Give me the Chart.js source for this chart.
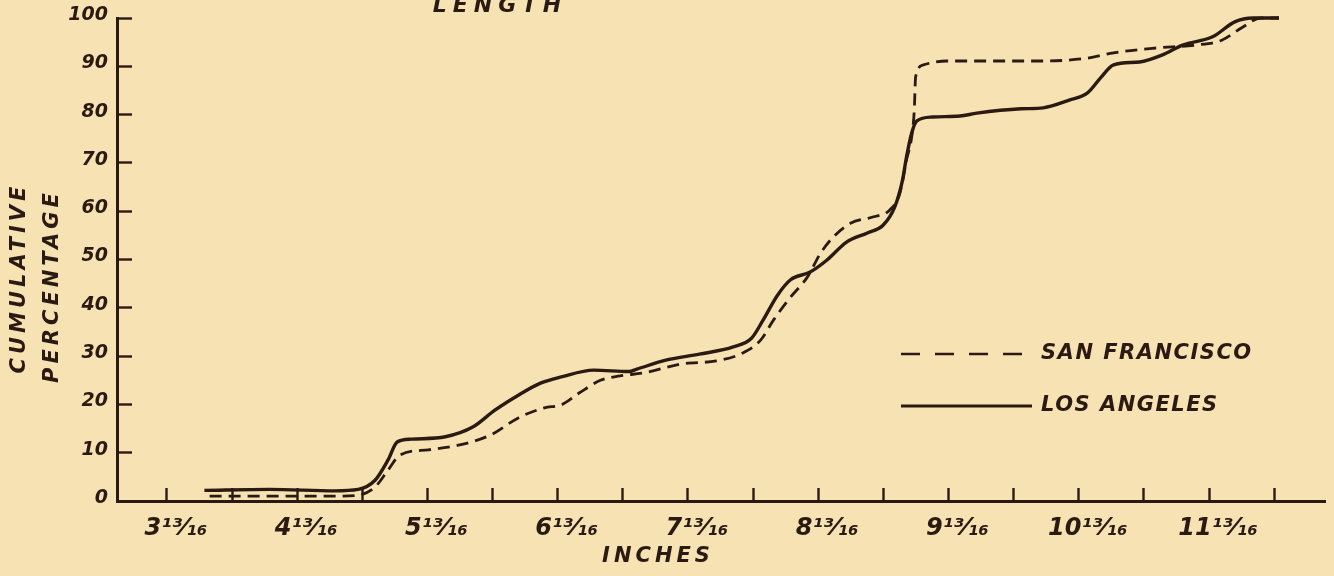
<!DOCTYPE html>
<html>
<head>
<meta charset="utf-8">
<script src="https://cdn.jsdelivr.net/npm/chart.js@4.4.1/dist/chart.umd.min.js"></script>
<style>
    html, body { margin: 0; padding: 0; background: #f7e2b4; }
    #wrap { width: 1334px; height: 576px; }
</style>
</head>
<body>
<div id="wrap"><canvas id="lengthChart" width="1334" height="576"></canvas></div>
<script>
// values (inches, cumulative %)
const laInches = [4.10, 4.60, 5.10, 5.28, 5.41, 5.51, 5.58, 5.69, 5.95, 6.16, 6.33, 6.51, 6.68, 6.84,
    7.09, 7.36, 7.42, 7.65, 7.90, 8.16, 8.30, 8.39, 8.50, 8.60, 8.75, 8.88, 9.03, 9.19, 9.31, 9.40,
    9.46, 9.49, 9.53, 9.57, 9.69, 9.90, 10.03, 10.37, 10.54, 10.74, 10.88, 10.98, 11.08, 11.28,
    11.45, 11.61, 11.84, 12.01, 12.15, 12.35];
const laPercent = [2.2, 2.4, 2.1, 2.4, 4.3, 8.5, 12.2, 12.8, 13.3, 15.3, 18.8, 21.9, 24.4, 25.7,
    27.1, 26.8, 27.3, 29.2, 30.4, 31.9, 33.7, 37.5, 42.6, 45.8, 47.4, 49.9, 53.6, 55.5, 57.1, 60.9,
    66.5, 71.2, 76.2, 78.7, 79.5, 79.7, 80.3, 81.2, 81.4, 83.0, 84.5, 87.6, 90.3, 90.9,
    92.3, 94.4, 96.1, 99.2, 100, 100];

const sfInches = [4.14, 4.60, 5.10, 5.28, 5.41, 5.51, 5.60, 5.82, 6.06, 6.30, 6.51, 6.71, 6.84, 6.98,
    7.14, 7.29, 7.47, 7.77, 8.03, 8.23, 8.37, 8.47, 8.60, 8.73, 8.83, 8.93, 9.06, 9.23, 9.36, 9.44,
    9.49, 9.53, 9.55, 9.56, 9.62, 9.80, 10.54, 10.88, 11.08, 11.41, 11.71, 11.91, 12.07, 12.21, 12.35];
const sfPercent = [1.0, 1.0, 1.0, 1.2, 2.9, 6.4, 9.5, 10.6, 11.6, 13.7, 17.2, 19.3, 19.9, 22.4,
    25.0, 25.9, 26.5, 28.4, 29.0, 30.6, 33.3, 37.5, 42.2, 46.4, 51.3, 54.7, 57.5, 58.8, 60.2, 63.8,
    70.6, 75.4, 81.0, 87.8, 90.3, 91.1, 91.1, 91.7, 92.8, 93.8, 94.4, 95.4, 98.1, 100, 100];

const xTickValues = [3.8125, 4.3125, 4.8125, 5.3125, 5.8125, 6.3125, 6.8125, 7.3125, 7.8125,
    8.3125, 8.8125, 9.3125, 9.8125, 10.3125, 10.8125, 11.3125, 11.8125, 12.3125];
const xTickLabels = ['3¹³⁄₁₆', '', '4¹³⁄₁₆', '', '5¹³⁄₁₆', '', '6¹³⁄₁₆', '', '7¹³⁄₁₆',
    '', '8¹³⁄₁₆', '', '9¹³⁄₁₆', '', '10¹³⁄₁₆', '', '11¹³⁄₁₆', ''];

const INK = '#2a1a12';
const FACE = '"DejaVu Sans", sans-serif';

function toPoints(xs, ys) {
    return xs.map((x, i) => ({ x: x, y: ys[i] }));
}

function letter(ctx, text, x, y, size, spacing, align) {
    ctx.font = `italic bold ${size}px ${FACE}`;
    ctx.letterSpacing = spacing + 'px';
    ctx.textAlign = align;
    ctx.fillText(text, x, y);
}

// hand lettering and legend drawn on the paper
const paperLettering = {
    id: 'paperLettering',
    afterDraw(chart) {
        const { ctx, chartArea } = chart;
        ctx.save();
        ctx.fillStyle = INK;
        ctx.strokeStyle = INK;

        ctx.textBaseline = 'alphabetic';
        letter(ctx, 'LENGTH', 500, 12, 22, 6, 'center');

        ctx.textBaseline = 'middle';
        letter(ctx, 'INCHES', 658, 557, 21, 4, 'center');

        ctx.save();
        ctx.translate(20, 278);
        ctx.rotate(-Math.PI / 2);
        letter(ctx, 'CUMULATIVE', 0, 0, 21, 4, 'center');
        ctx.restore();
        ctx.save();
        ctx.translate(53, 286);
        ctx.rotate(-Math.PI / 2);
        letter(ctx, 'PERCENTAGE', 0, 0, 21, 4, 'center');
        ctx.restore();

        // legend
        const lx0 = chartArea.right - 424;
        const lx1 = chartArea.right - 293;
        const rows = [
            { y: 354, text: 'SAN FRANCISCO', dash: [19, 15], width: 2.6 },
            { y: 406, text: 'LOS ANGELES', dash: [], width: 3 }
        ];
        rows.forEach(r => {
            ctx.beginPath();
            ctx.setLineDash(r.dash);
            ctx.lineWidth = r.width;
            ctx.moveTo(lx0, r.y);
            ctx.lineTo(lx1, r.y);
            ctx.stroke();
            letter(ctx, r.text, lx1 + 9, r.y, 21, 1.5, 'left');
        });
        ctx.restore();
    }
};

new Chart(document.getElementById('lengthChart'), {
    type: 'line',
    data: {
        datasets: [
            {
                label: 'SAN FRANCISCO',
                data: toPoints(sfInches, sfPercent),
                borderColor: INK,
                borderWidth: 2.8,
                borderDash: [12, 7],
                pointRadius: 0,
                cubicInterpolationMode: 'monotone',
                clip: false
            },
            {
                label: 'LOS ANGELES',
                data: toPoints(laInches, laPercent),
                borderColor: INK,
                borderWidth: 3.4,
                pointRadius: 0,
                cubicInterpolationMode: 'monotone',
                clip: false
            }
        ]
    },
    options: {
        responsive: false,
        animation: false,
        devicePixelRatio: 1,
        layout: { padding: { left: 0, right: 9, top: 18, bottom: 0 } },
        plugins: {
            legend: { display: false },
            tooltip: { enabled: false }
        },
        scales: {
            x: {
                type: 'linear',
                min: 3.429,
                max: 12.703,
                afterBuildTicks: (scale) => {
                    scale.ticks = xTickValues.map(v => ({ value: v }));
                },
                afterFit: (scale) => {
                    scale.height = 75;
                    scale.paddingLeft = 0;
                    scale.paddingRight = 0;
                },
                border: { display: true, color: INK, width: 3 },
                grid: {
                    drawOnChartArea: false,
                    drawTicks: true,
                    tickLength: -13,
                    tickWidth: 2.4,
                    color: INK
                },
                ticks: {
                    autoSkip: false,
                    maxRotation: 0,
                    padding: 26,
                    labelOffset: 9,
                    color: INK,
                    font: { family: FACE, size: 24, style: 'italic', weight: 'bold' },
                    callback: (value, index) => xTickLabels[index]
                }
            },
            y: {
                min: 0,
                max: 100,
                afterFit: (scale) => {
                    scale.width = 117;
                    scale.paddingTop = 0;
                    scale.paddingBottom = 0;
                },
                border: { display: true, color: INK, width: 3 },
                grid: {
                    drawOnChartArea: false,
                    drawTicks: true,
                    tickLength: -15,
                    tickWidth: 2.4,
                    color: INK
                },
                ticks: {
                    stepSize: 10,
                    padding: 24,
                    labelOffset: -3,
                    color: INK,
                    font: { family: FACE, size: 19, style: 'italic', weight: 'bold' }
                }
            }
        }
    },
    plugins: [paperLettering]
});
</script>
</body>
</html>
